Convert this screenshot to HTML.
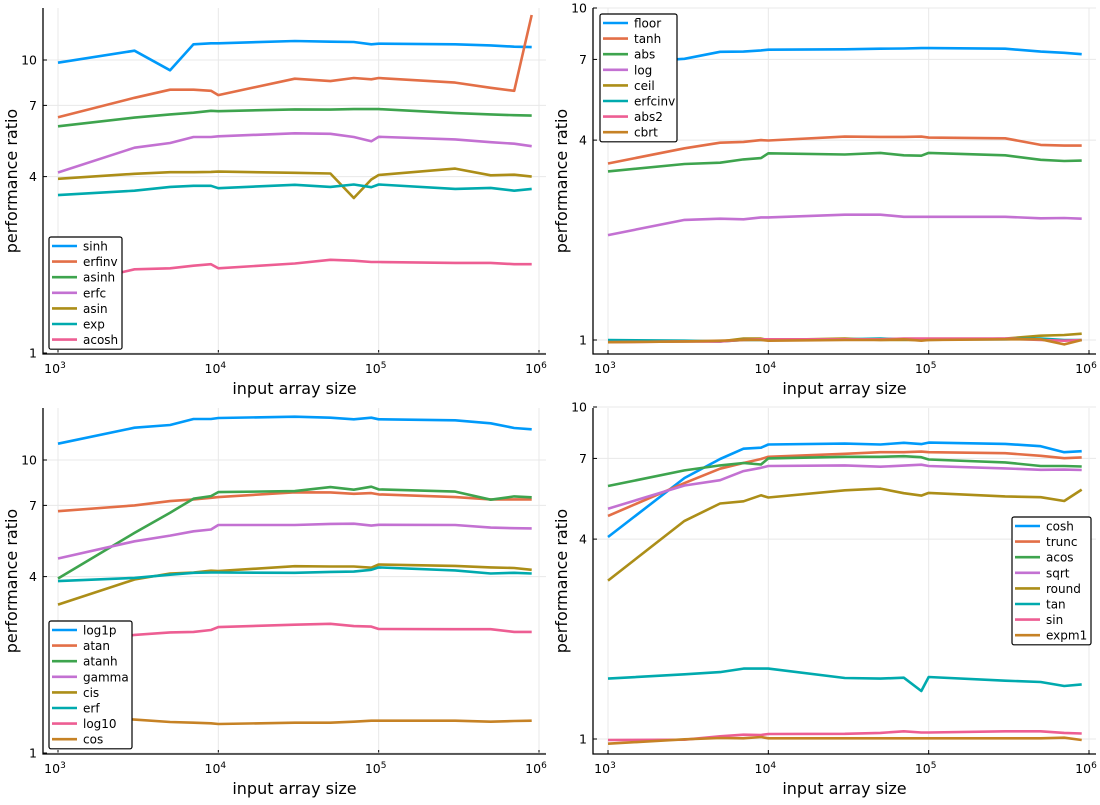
<!DOCTYPE html>
<html><head><meta charset="utf-8"><style>
html,body{margin:0;padding:0;background:#fff;}
svg text{font-family:"DejaVu Sans","Liberation Sans",sans-serif;fill:#000;}
</style></head><body>
<svg id="chart" width="1100" height="800" viewBox="0 0 1100 800" xmlns="http://www.w3.org/2000/svg"></svg>
<script>
const xs = [1000,3000,5000,7000,9000,10000,30000,50000,70000,90000,100000,300000,500000,700000,900000];
const colors = ["#009AFA","#E36F47","#3EA44E","#C371D2","#AC8E18","#00AAAE","#ED5E93","#C68225"];
const yTickVals = [1,4,7,10];
const xTickVals = [1000,10000,100000,1000000];
const xTickExp = ["3","4","5","6"];

// panel 1
const p1Names = ["sinh","erfinv","asinh","erfc","asin","exp","acosh"];
const sinh = [9.79,10.76,9.22,11.31,11.40,11.40,11.61,11.55,11.52,11.31,11.37,11.31,11.22,11.10,11.07];
const erfinv = [6.38,7.43,7.92,7.92,7.85,7.59,8.63,8.47,8.68,8.59,8.68,8.37,8.04,7.85,14.24];
const asinh = [5.94,6.36,6.52,6.61,6.71,6.69,6.78,6.77,6.80,6.80,6.80,6.59,6.52,6.48,6.46];
const erfc = [4.13,5.02,5.21,5.46,5.46,5.49,5.62,5.60,5.46,5.28,5.47,5.36,5.24,5.18,5.08];
const asin = [3.93,4.09,4.14,4.14,4.15,4.16,4.12,4.10,3.38,3.91,4.05,4.26,4.04,4.06,4.00];
const expv = [3.46,3.58,3.69,3.72,3.72,3.65,3.75,3.69,3.76,3.68,3.76,3.63,3.66,3.58,3.63];
const acosh = [1.68,1.93,1.945,1.986,2.01,1.945,2.02,2.08,2.065,2.045,2.045,2.03,2.03,2.01,2.01];

// panel 2
const p2Names = ["floor","tanh","abs","log","ceil","erfcinv","abs2","cbrt"];
const floorv = [6.81,7.03,7.38,7.39,7.45,7.49,7.51,7.54,7.55,7.57,7.57,7.54,7.39,7.33,7.26];
const tanh = [3.40,3.78,3.93,3.95,4.00,3.99,4.10,4.09,4.09,4.10,4.07,4.05,3.87,3.85,3.85];
const absv = [3.22,3.39,3.42,3.50,3.53,3.65,3.62,3.66,3.60,3.59,3.66,3.60,3.49,3.46,3.47];
const logv = [2.07,2.30,2.32,2.31,2.34,2.34,2.385,2.385,2.35,2.35,2.35,2.35,2.325,2.33,2.32];
const ceil = [0.99,0.99,0.99,1.01,1.01,1.0,1.01,1.0,1.0,1.0,1.0,1.01,1.03,1.035,1.045];
const erfcinv = [1.0,0.995,0.99,1.0,1.0,1.0,1.005,1.01,1.005,1.0,1.005,1.005,1.01,1.0,1.0];
const abs2 = [0.985,0.99,0.99,1.0,1.005,1.005,1.005,1.005,1.01,1.01,1.01,1.01,1.0,0.995,1.0];
const cbrt = [0.985,0.99,0.995,1.0,1.0,0.995,1.0,1.0,1.005,0.995,1.0,1.005,1.005,0.97,1.0];

// panel 3
const p3Names = ["log1p","atan","atanh","gamma","cis","erf","log10","cos"];
const log1p = [11.37,12.89,13.17,13.80,13.80,13.91,14.05,13.94,13.77,13.94,13.77,13.66,13.34,12.86,12.73];
const atan = [6.69,7.0,7.24,7.34,7.43,7.47,7.76,7.75,7.67,7.71,7.63,7.47,7.34,7.34,7.34];
const atanh = [3.94,5.64,6.61,7.38,7.53,7.77,7.83,8.08,7.92,8.11,7.94,7.80,7.32,7.51,7.46];
const gamma = [4.61,5.28,5.52,5.71,5.79,6.00,6.00,6.05,6.06,5.97,6.01,6.00,5.88,5.85,5.84];
const cis = [3.21,3.91,4.10,4.13,4.19,4.18,4.34,4.33,4.33,4.29,4.40,4.35,4.30,4.28,4.22];
const erf = [3.86,3.96,4.06,4.12,4.13,4.13,4.12,4.15,4.16,4.22,4.30,4.20,4.10,4.12,4.10];
const log10v = [2.25,2.53,2.58,2.59,2.63,2.69,2.74,2.76,2.71,2.70,2.65,2.645,2.645,2.59,2.59];
const cosv = [1.35,1.30,1.276,1.269,1.263,1.256,1.269,1.269,1.279,1.289,1.289,1.289,1.279,1.286,1.289];

// panel 4
const p4Names = ["cosh","trunc","acos","sqrt","round","tan","sin","expm1"];
const cosh = [4.06,6.11,6.97,7.49,7.54,7.71,7.76,7.71,7.80,7.73,7.81,7.74,7.62,7.31,7.36];
const trunc = [4.70,5.90,6.52,6.78,6.97,7.08,7.23,7.31,7.31,7.34,7.31,7.26,7.13,7.01,7.05];
const acos = [5.78,6.44,6.67,6.78,6.71,7.0,7.08,7.08,7.11,7.06,6.95,6.81,6.64,6.64,6.62];
const sqrtv = [4.94,5.80,6.02,6.41,6.56,6.64,6.67,6.61,6.66,6.70,6.64,6.53,6.47,6.48,6.46];
const roundv = [3.00,4.54,5.12,5.20,5.42,5.34,5.61,5.68,5.50,5.41,5.51,5.38,5.35,5.21,5.64];
const tan = [1.52,1.566,1.59,1.63,1.63,1.63,1.527,1.52,1.53,1.395,1.537,1.498,1.485,1.444,1.46];
const sin = [0.993,0.995,1.019,1.03,1.028,1.035,1.037,1.043,1.055,1.046,1.046,1.055,1.055,1.043,1.039];
const expm1 = [0.968,0.998,1.007,1.005,1.014,1.005,1.005,1.005,1.005,1.005,1.005,1.005,1.005,1.009,0.993];

const panels = [
 {id:"sinh-panel", left:43, right:546, x0:58, x1:539, top:8, bottom:354, y1:353, dec:293, names:p1Names, series:[sinh,erfinv,asinh,erfc,asin,expv,acosh], leg:{x:49,y:237,w:73}},
 {id:"floor-panel", left:593, right:1096, x0:608, x1:1089, top:8, bottom:354, y1:340, dec:332, names:p2Names, series:[floorv,tanh,absv,logv,ceil,erfcinv,abs2,cbrt], leg:{x:600,y:14,w:77}},
 {id:"log1p-panel", left:43, right:546, x0:58, x1:539, top:408, bottom:754, y1:753, dec:293, names:p3Names, series:[log1p,atan,atanh,gamma,cis,erf,log10v,cosv], leg:{x:49,y:621,w:83}},
 {id:"cosh-panel", left:593, right:1096, x0:608, x1:1089, top:408, bottom:754, y1:739, dec:332, names:p4Names, series:[cosh,trunc,acos,sqrtv,roundv,tan,sin,expm1], leg:{x:1012,y:517,w:79}}
];

const NS = "http://www.w3.org/2000/svg";
const svg = document.getElementById("chart");
function mk(tag, attrs, parent){ const e=document.createElementNS(NS,tag); for(const k in attrs) e.setAttribute(k,attrs[k]); (parent||svg).appendChild(e); return e; }

panels.forEach(p=>{
  const g = mk("g",{});
  
  
  const xScale = v => p.x0 + (Math.log10(v)-3)*(p.x1-p.x0)/3;
  const yScale = v => p.y1 - p.dec*Math.log10(v);
  xTickVals.forEach((t,i)=>{
    const x = xScale(t);
    const gl = mk("line",{x1:x,x2:x,y1:p.top,y2:p.bottom,stroke:"#e8e8e8","stroke-width":1},g);
    
    
    const tk = mk("line",{x1:x,x2:x,y1:p.bottom,y2:p.bottom-4,stroke:"#000","stroke-width":1},g);
    
    
    const tx = mk("text",{x:x-3,y:p.bottom+19,"font-size":"12.5","text-anchor":"middle"},g);
    
    
    tx.textContent="10";
    const sp = mk("tspan",{dy:"-5","font-size":"9"},tx);
    sp.textContent = xTickExp[i];
  });
  yTickVals.forEach(t=>{
    const y = yScale(t);
    const gl = mk("line",{x1:p.left,x2:p.right,y1:y,y2:y,stroke:"#e8e8e8","stroke-width":1},g);
    
    
    const tk = mk("line",{x1:p.left,x2:p.left+4,y1:y,y2:y,stroke:"#000","stroke-width":1},g);
    
    
    const tx = mk("text",{x:p.left-6,y:y+4.5,"font-size":"12.5","text-anchor":"end"},g);
    
    
    tx.textContent = String(t);
  });
  p.series.forEach((s,si)=>{
    const d = s.map((v,i)=>(i?"L":"M")+xScale(xs[i]).toFixed(1)+","+yScale(v).toFixed(1)).join(" ");
    const path = mk("path",{d:d,fill:"none",stroke:colors[si],"stroke-width":2.6,"stroke-linejoin":"round"},g);
    
    
  });
  const ax = mk("path",{d:`M${p.left},${p.top} L${p.left},${p.bottom} L${p.right},${p.bottom}`,fill:"none",stroke:"#000","stroke-width":1.3},g);
  
  
  const xl = mk("text",{x:(p.left+p.right)/2,y:p.bottom+40,"font-size":"16","text-anchor":"middle"},g);
  
  
  xl.textContent="input array size";
  const cy=(p.top+p.bottom)/2, cx=p.left-26;
  const yl = mk("text",{x:cx,y:cy,"font-size":"16","text-anchor":"middle",transform:`rotate(-90 ${cx} ${cy})`},g);
  
  
  yl.textContent="performance ratio";
  const L=p.leg, n=p.names.length, rowH=15.6;
  const lg = mk("g",{},g);
  
  
  mk("rect",{x:L.x,y:L.y,width:L.w,height:n*rowH+3,rx:2,fill:"#fff",stroke:"#000","stroke-width":1.2},lg);
  p.names.forEach((nm,i)=>{
    const yy = L.y+9+i*rowH;
    const e = mk("g",{},lg);
    
    
    mk("line",{x1:L.x+3,x2:L.x+28,y1:yy,y2:yy,stroke:colors[i],"stroke-width":2.6},e);
    const t = mk("text",{x:L.x+34,y:yy+4.5,"font-size":"12"},e);
    t.textContent=nm;
  });
});
</script>
</body></html>
